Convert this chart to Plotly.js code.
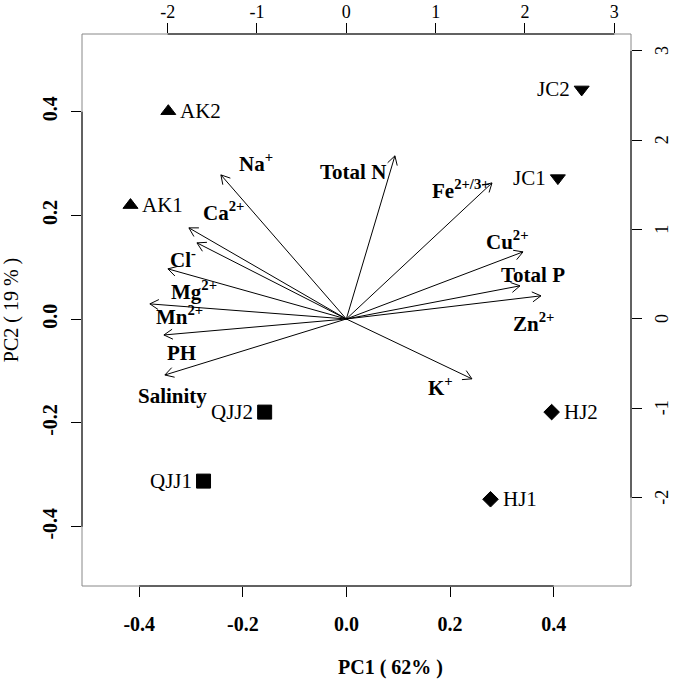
<!DOCTYPE html>
<html><head><meta charset="utf-8">
<script src="https://cdn.plot.ly/plotly-3.0.1.min.js"></script>
<style>body{margin:0;background:#fff}</style>
</head><body><div id="chart" style="width:675px;height:681px"></div>
<script>
// Sample scores (bottom / left axes)
const sampleNames = ['AK1','AK2','JC1','JC2','QJJ1','QJJ2','HJ1','HJ2'];
const samplePC1 = [-0.417,-0.344,0.408,0.454,-0.276,-0.158,0.278,0.396];
const samplePC2 = [0.220,0.401,0.272,0.443,-0.312,-0.179,-0.347,-0.179];
const sampleGroup = ['AK','AK','JC','JC','QJJ','QJJ','HJ','HJ'];

// Variable loadings (top / right axes)
const varNames = ['Na<sup>+</sup>','Ca<sup>2+</sup>','Cl<sup>-</sup>','Mg<sup>2+</sup>','Mn<sup>2+</sup>','PH','Salinity','Total N','Fe<sup>2+/3+</sup>','Cu<sup>2+</sup>','Total P','Zn<sup>2+</sup>','K<sup>+</sup>'];
const loadPC1 = [-1.404,-1.762,-1.672,-1.997,-2.199,-2.042,-2.031,0.544,1.631,1.978,1.944,2.179,1.406];
const loadPC2 = [1.613,1.020,0.852,0.561,0.169,-0.179,-0.627,1.826,1.523,0.751,0.371,0.259,-0.670];
const labelPC1 = [-1.01,-1.38,-1.83,-1.70,-1.87,-1.84,-1.95,0.07,1.28,1.80,2.09,2.09,1.05];
const labelPC2 = [1.75,1.20,0.68,0.32,0.04,-0.38,-0.86,1.65,1.45,0.88,0.49,-0.04,-0.76];

// Tick labels
const pcTicks = [-0.4,-0.2,0.0,0.2,0.4];
const pcTickText = ['-0.4','-0.2','0.0','0.2','0.4'];
const loadTicks = [-2,-1,0,1,2,3];
const loadTickText = ['-2','-1','0','1','2','3'];

// styles
const groupSymbol = {AK:'triangle-up', JC:'triangle-down', QJJ:'square', HJ:'diamond'};
const groupSize = {AK:13, JC:13, QJJ:14, HJ:12};
const groupLabelSide = {AK:'right', JC:'left', QJJ:'left', HJ:'right'};
const serif = 'Liberation Serif, Times New Roman, serif';

// arrows built from the loadings
const ax = [], ay = [];
const headLen = 10/89.33, ang = 30*Math.PI/180;
for (let i=0;i<loadPC1.length;i++){
  const x=loadPC1[i], y=loadPC2[i];
  ax.push(0,x,null); ay.push(0,y,null);
  const n=Math.hypot(x,y), bx=-x/n, by=-y/n;
  const r1x=bx*Math.cos(ang)-by*Math.sin(ang), r1y=bx*Math.sin(ang)+by*Math.cos(ang);
  const r2x=bx*Math.cos(-ang)-by*Math.sin(-ang), r2y=bx*Math.sin(-ang)+by*Math.cos(-ang);
  ax.push(x+headLen*r1x,x,x+headLen*r2x,null);
  ay.push(y+headLen*r1y,y,y+headLen*r2y,null);
}

const traces = [
  {x:ax,y:ay,xaxis:'x2',yaxis:'y2',mode:'lines',line:{color:'#000',width:1},hoverinfo:'skip',showlegend:false},
  {x:samplePC1,y:samplePC2,xaxis:'x',yaxis:'y',mode:'markers',text:sampleNames,showlegend:false,
   marker:{color:'#000',opacity:1,symbol:sampleGroup.map(g=>groupSymbol[g]),size:sampleGroup.map(g=>groupSize[g]),line:{width:1,color:'#000'}}}
];

const annotations = [];
sampleNames.forEach((n,i)=>{
  const side = groupLabelSide[sampleGroup[i]];
  annotations.push({x:samplePC1[i],y:samplePC2[i],xref:'x',yref:'y',text:n,showarrow:false,
    xanchor: side==='right'?'left':'right', xshift: side==='right'?10:-10, yanchor:'middle',
    font:{family:serif,size:21,color:'#000'}});
});
varNames.forEach((n,i)=>{
  annotations.push({x:labelPC1[i],y:labelPC2[i],xref:'x2',yref:'y2',text:n,showarrow:false,
    xanchor:'center',yanchor:'middle',font:{family:serif,size:21,color:'#000',weight:'bold'}});
});
// x title (sits right of centre, as in the reference)
annotations.push({x:(390-82)/549,y:-(667-586)/552,xref:'paper',yref:'paper',text:'PC1 ( 62% )',showarrow:false,
  yanchor:'middle',xanchor:'center',font:{family:serif,size:20,color:'#000',weight:'bold'}});
// right axis tick labels, drawn parallel to the axis
loadTicks.forEach((v,i)=>{
  annotations.push({x:(662-82)/549,y:v,xref:'paper',yref:'y2',text:loadTickText[i],showarrow:false,textangle:-90,
    xanchor:'center',yanchor:'middle',font:{family:serif,size:18,color:'#000'}});
});

const tickBold = {family:serif,size:20,color:'#000',weight:'bold'};
const baseAxis = {showgrid:false,zeroline:false,showline:false,ticks:'outside',ticklen:10,tickwidth:1,tickcolor:'#000',fixedrange:true};

const shapes = [
  {type:'rect',xref:'paper',yref:'paper',x0:0,x1:1,y0:0,y1:1,line:{color:'#888',width:1}},
  {type:'line',xref:'x',yref:'paper',x0:Math.min(...pcTicks),x1:Math.max(...pcTicks),y0:0,y1:0,line:{color:'#000',width:1}},
  {type:'line',xref:'paper',yref:'y',x0:0,x1:0,y0:Math.min(...pcTicks),y1:Math.max(...pcTicks),line:{color:'#000',width:1}},
  {type:'line',xref:'x2',yref:'paper',x0:Math.min(...loadTicks),x1:Math.max(...loadTicks),y0:1,y1:1,line:{color:'#000',width:1}},
  {type:'line',xref:'paper',yref:'y2',x0:1,x1:1,y0:Math.min(...loadTicks),y1:Math.max(...loadTicks),line:{color:'#000',width:1}}
];

const layout = {
  width:675,height:681,paper_bgcolor:'#fff',plot_bgcolor:'#fff',
  margin:{l:82,r:44,t:34,b:95},
  showlegend:false,
  xaxis:Object.assign({},baseAxis,{range:[-0.5106,0.5492],tickvals:pcTicks,ticktext:pcTickText,tickfont:tickBold,ticklabelstandoff:10}),
  yaxis:Object.assign({},baseAxis,{range:[-0.5142,0.5498],tickvals:pcTicks,ticktext:pcTickText,tickfont:tickBold,tickangle:-90,ticklabelstandoff:6,
    title:{text:'PC2 ( 19 % )',font:{family:serif,size:20,color:'#000'},standoff:16}}),
  xaxis2:Object.assign({},baseAxis,{overlaying:'x',side:'top',range:[-2.959,3.187],tickvals:loadTicks,ticktext:loadTickText,tickfont:{family:serif,size:18,color:'#000'},ticklabelstandoff:-2}),
  yaxis2:Object.assign({},baseAxis,{overlaying:'y',side:'right',range:[-2.989,3.19],tickvals:loadTicks,ticktext:loadTickText,showticklabels:false}),
  annotations:annotations,
  shapes:shapes
};
Plotly.newPlot('chart',traces,layout,{displayModeBar:false,staticPlot:true});
</script></body></html>
